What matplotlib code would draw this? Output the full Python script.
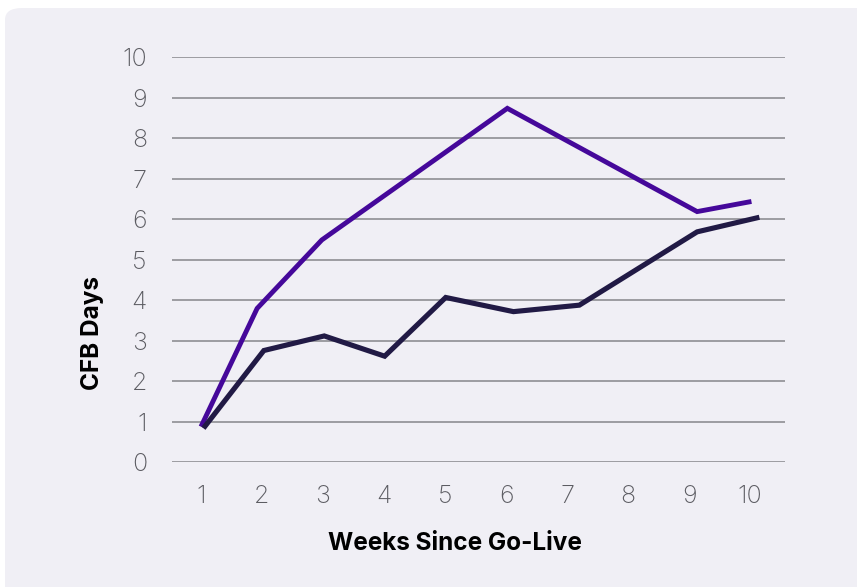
import matplotlib
matplotlib.use('Agg')
import matplotlib.pyplot as plt
from matplotlib.patches import FancyBboxPatch

# values (vertices of each line)
purple_weeks = [1.0, 1.92, 2.98, 6.02, 9.13, 10.02]
purple_days = [0.88, 3.80, 5.49, 8.74, 6.19, 6.44]

dark_weeks = [1.04, 2.03, 3.02, 4.01, 5.01, 6.12, 7.2, 9.13, 10.15]
dark_days = [0.84, 2.76, 3.12, 2.62, 4.07, 3.72, 3.88, 5.69, 6.05]

week_ticks = list(range(1, 11))
day_ticks = list(range(0, 11))

plt.rcParams['font.family'] = ['Inter', 'DejaVu Sans']

W, H = 857, 587
fig = plt.figure(figsize=(W / 100, H / 100), dpi=100)
fig.patch.set_facecolor('white')

# light panel behind the chart, rounded top-left corner
panel = FancyBboxPatch((5 / W, -40 / H), 900 / W, (H - 8 + 40) / H,
                       boxstyle='round,pad=0,rounding_size=0.02',
                       transform=fig.transFigure, facecolor='#f0eff5',
                       edgecolor='none', zorder=-5)
fig.patches.append(panel)

ax = fig.add_axes([172 / W, 1 - 462.3 / H, (785 - 172) / W, (462.3 - 57.3) / H])
ax.set_facecolor('none')
ax.set_zorder(2)

ax.plot(purple_weeks, purple_days, color='#45089a', lw=3.5,
        solid_capstyle='butt', solid_joinstyle='miter', zorder=3)
ax.plot(dark_weeks, dark_days, color='#211a45', lw=3.7,
        solid_capstyle='butt', solid_joinstyle='miter', zorder=4)

ax.set_xlim(0.525, 10.57)
ax.set_ylim(0, 10)
ax.set_xticks(week_ticks)
ax.set_yticks(day_ticks)
ax.yaxis.grid(True, color='#8e8e93', lw=1.2)
ax.set_axisbelow(True)
for s in ax.spines.values():
    s.set_visible(False)
ax.tick_params(length=0, labelsize=18, labelcolor='#5c5c62')
ax.tick_params(axis='y', pad=18)
ax.tick_params(axis='x', pad=16)
for lbl in ax.get_xticklabels() + ax.get_yticklabels():
    lbl.set_fontweight('light')

fig.text(455 / W, 1 - 544 / H, 'Weeks Since Go-Live', ha='center', va='center',
         fontsize=17.5, fontweight='bold', color='black', zorder=3)
fig.text(92 / W, 1 - 333 / H, 'CFB Days', ha='center', va='center',
         rotation=90, fontsize=17.5, fontweight='bold', color='black', zorder=3)

fig.savefig('out.png', dpi=100)
